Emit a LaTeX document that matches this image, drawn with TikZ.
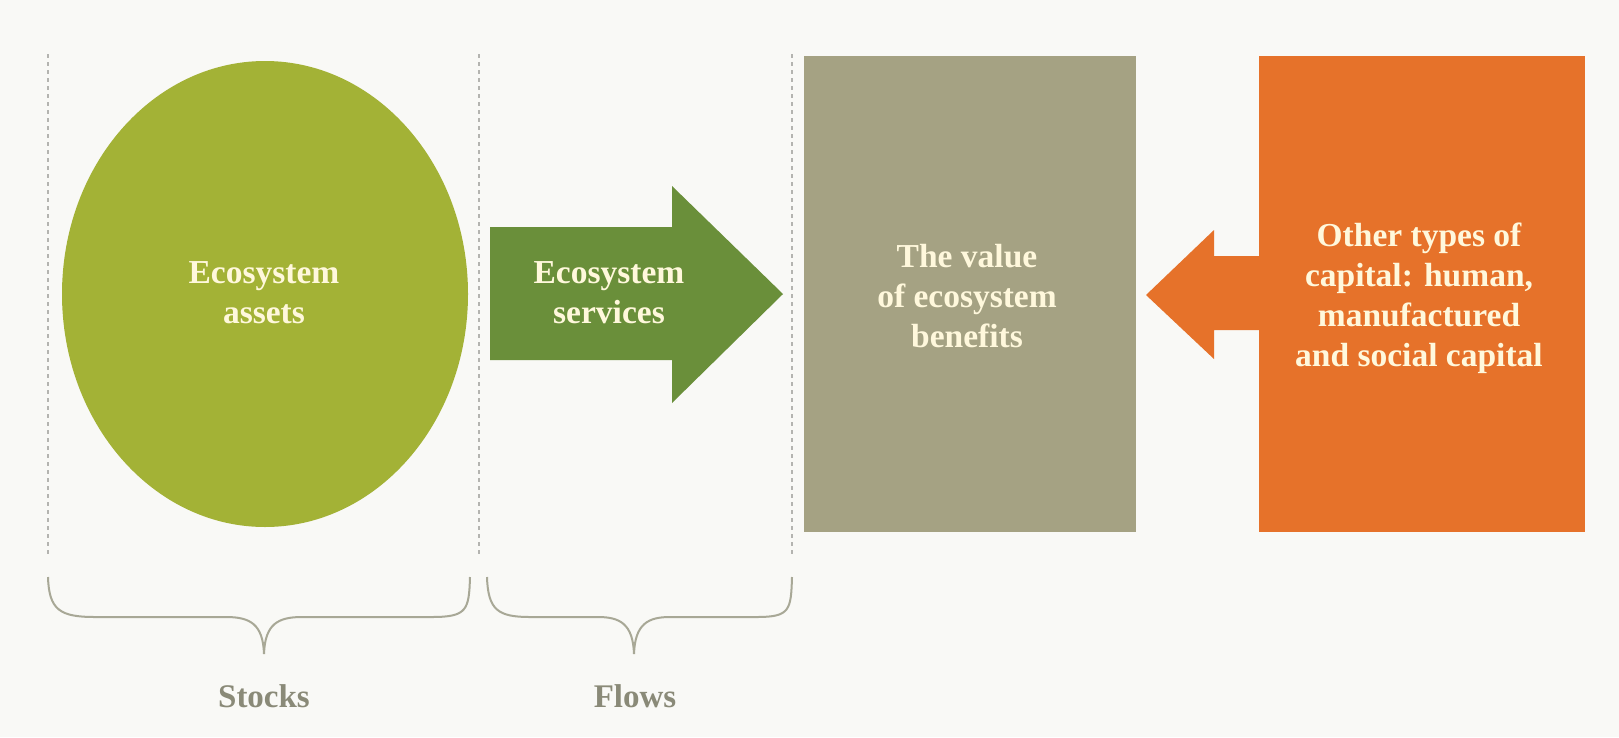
\documentclass[tikz,border=0pt]{standalone}
\usepackage{fontspec}
\setmainfont{Liberation Serif}
\usetikzlibrary{shapes.geometric}
\definecolor{bgc}{HTML}{F9F9F6}
\definecolor{olive}{HTML}{A3B236}
\definecolor{arrgreen}{HTML}{6A8F3A}
\definecolor{taupe}{HTML}{A5A283}
\definecolor{orng}{HTML}{E6722A}
\definecolor{cream}{HTML}{FFF8DC}
\definecolor{bracec}{HTML}{A8A896}
\definecolor{labc}{HTML}{8A8A78}
\definecolor{dashc}{HTML}{B4B4B0}
\tikzset{
  lbl/.style={text=cream, font=\bfseries\fontsize{33.5}{40}\selectfont, align=center, inner sep=0pt},
  divider/.style={draw=dashc, line width=1.2pt, dash pattern=on 4pt off 4pt},
  bracepath/.style={draw=bracec, line width=2pt},
  undertext/.style={text=labc, font=\bfseries\fontsize{33}{38}\selectfont, inner sep=0pt},
}
\begin{document}
\begin{tikzpicture}[x=1pt,y=-1pt]
\fill[bgc] (0,0) rectangle (1619,737);
\useasboundingbox (0,0) rectangle (1619,737);
% dashed dividers
\foreach \xx/\nm in {48/d1,479/d2,792/d3}{
  \coordinate (\nm t) at (\xx,54);
  \coordinate (\nm b) at (\xx,555);
  \draw[divider] (\nm t) -- (\nm b);
}
% ellipse
\node[ellipse, fill=olive, minimum width=406pt, minimum height=466pt, inner sep=0pt] (assets) at (265,294) {};
\node[lbl] (assetstxt) at (264,293) {Ecosystem\\assets};
% green arrow
\fill[arrgreen] (490,227) -- (672,227) -- (672,186) -- (783,294) -- (672,403) -- (672,360) -- (490,360) -- cycle;
\node[lbl] (services) at (609,293) {Ecosystem\\services};
% gray box
\node[fill=taupe, minimum width=332pt, minimum height=476pt, inner sep=0pt] (value) at (970,294) {};
\node[lbl] (valuetxt) at (967,296) {The value\\of ecosystem\\benefits};
% orange box
\node[fill=orng, minimum width=326pt, minimum height=476pt, inner sep=0pt] (other) at (1422,294) {};
\node[lbl] (othertxt) at (1419,298) {Other types of\\capital: human,\\manufactured\\and social capital};
% orange arrow
\fill[orng] (other.west |- 0,256) -- (1214,256) -- (1214,230) -- (1146,295) -- (1214,359) -- (1214,330) -- (other.west |- 0,330) -- cycle;
% braces
\coordinate (b1l) at (48,577);
\coordinate (b1m) at (264,654);
\coordinate (b1r) at (470,577);
\draw[bracepath] (b1l) .. controls (49,610) and (60,617) .. (95,617) -- (226,617) .. controls (250,617) and (263,624) .. (b1m)
  .. controls (265,624) and (278,617) .. (302,617) -- (432,617) .. controls (467,617) and (469,610) .. (b1r);
\coordinate (b2l) at (487,577);
\coordinate (b2m) at (634,654);
\coordinate (b2r) at (792,577);
\draw[bracepath] (b2l) .. controls (488,610) and (498,617) .. (530,617) -- (598,617) .. controls (620,617) and (633,624) .. (b2m)
  .. controls (635,624) and (648,617) .. (670,617) -- (757,617) .. controls (790,617) and (791,610) .. (b2r);
\node[undertext] (stocks) at (264,696) {Stocks};
\node[undertext] (flows) at (635,696) {Flows};
\end{tikzpicture}
\end{document}
